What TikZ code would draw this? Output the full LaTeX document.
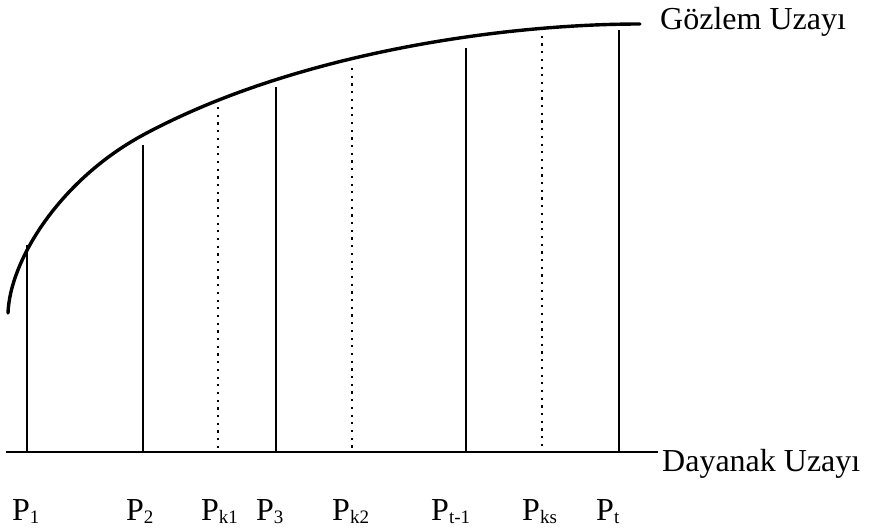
\documentclass[tikz,border=0pt]{standalone}
\usepackage{fontspec}
\setmainfont{Liberation Serif}
\usepackage{tikz}
\usetikzlibrary{positioning}

\tikzset{
  obscurve/.style={line width=3.4pt, line cap=round},
  baseaxis/.style={line width=2.6pt},
  solidbar/.style={line width=2pt},
  dotbar/.style={line width=2.2pt, dash pattern=on 2.2pt off 5.5pt},
  plab/.style={anchor=base west, inner sep=0pt, font=\fontsize{32}{34}\selectfont},
  spacelab/.style={anchor=base west, inner sep=0pt, font=\fontsize{32}{36}\selectfont}
}
\newcommand{\psub}[1]{\raisebox{-0.12em}{\fontsize{19}{20}\selectfont #1}}

\begin{document}
\begin{tikzpicture}[x=1pt,y=-1pt]
  \useasboundingbox (0,0) rectangle (878,531);

  % observation space curve
  \coordinate (cstart) at (8,313);
  \coordinate (cmid) at (143,135);
  \coordinate (cend) at (640,24);
  \draw[obscurve] (cstart) .. controls (10,260) and (60,180) .. (cmid)
    .. controls (293,54) and (500,24) .. (cend);
  \node[spacelab] (gozlem) at (660,29) {Gözlem Uzayı};

  % support space axis
  \coordinate (axl) at (6,452);
  \coordinate (axr) at (658,452);
  \draw[baseaxis] (axl) -- (axr);
  \node[spacelab] (dayanak) at (662,471) {Dayanak Uzayı};

  % bars and their labels
  \foreach \n/\x/\top/\sty/\lx/\lab in {
      a/27/245/solidbar/12/1, b/143/145/solidbar/126/2,
      c/218/107/dotbar/201/k1, d/276/87/solidbar/256/3,
      e/352/68/dotbar/332/k2, f/466/48/solidbar/431/t-1,
      g/542/28/dotbar/522/ks, h/619/30/solidbar/596/t} {
    \coordinate (top\n) at (\x,\top);
    \coordinate (bot\n) at (\x,452);
    \draw[\sty] (top\n) -- (bot\n);
    \node[plab] (p\n) at (\lx,520) {P\psub{\lab}};
  }
\end{tikzpicture}
\end{document}
